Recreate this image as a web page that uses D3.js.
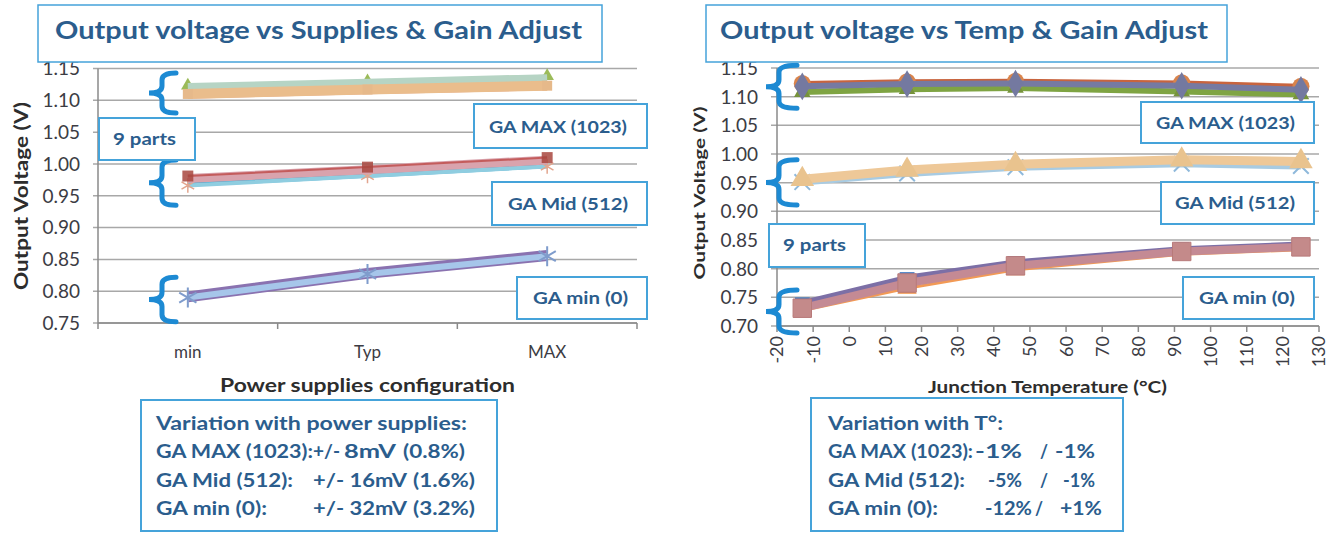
<!DOCTYPE html>
<html>
<head>
<meta charset="utf-8">
<script src="https://cdn.jsdelivr.net/npm/d3@7"></script>
<style>
  html, body { margin: 0; padding: 0; background: #fff; }
  svg { display: block; font-family: Lato, "Open Sans", "Liberation Sans", sans-serif; }
</style>
</head>
<body>
<svg id="chart" width="1340" height="534"></svg>
<script>
// ---------- data: output voltage vs supplies ----------
const supplyCats = ["min", "Typ", "MAX"];
const supplyTicks = [0.75, 0.80, 0.85, 0.90, 0.95, 1.00, 1.05, 1.10, 1.15];

// GA MAX (1023)
const supMaxGreen  = [1.123, 1.130, 1.138];
const supMaxTeal   = [1.120, 1.127, 1.134];
const supMaxOrange = [1.110, 1.117, 1.123];
const supMaxPink   = [1.105, 1.112, 1.118];
// GA Mid (512)
const supMidBrown  = [0.981, 0.995, 1.010];
const supMidPink   = [0.977, 0.991, 1.006];
const supMidCyan   = [0.969, 0.983, 0.998];
const supMidLight  = [0.966, 0.981, 0.996];
// GA min (0)
const supMinPurple = [0.791, 0.828, 0.856];
const supMinLight  = [0.790, 0.827, 0.855];

// ---------- data: output voltage vs junction temperature ----------
const tempPoints = [-13, 16, 46, 92, 125];
const tempTicksX = [-20, -10, 0, 10, 20, 30, 40, 50, 60, 70, 80, 90, 100, 110, 120, 130];
const tempTicksY = [0.70, 0.75, 0.80, 0.85, 0.90, 0.95, 1.00, 1.05, 1.10, 1.15];

// GA MAX (1023)
const tMaxGreen  = [1.108, 1.113, 1.115, 1.109, 1.104];
const tMaxOrange = [1.123, 1.126, 1.127, 1.124, 1.118];
const tMaxSlate  = [1.118, 1.122, 1.123, 1.119, 1.112];
// GA Mid (512)
const tMidBlue   = [0.951, 0.966, 0.977, 0.983, 0.979];
const tMidLilac  = [0.953, 0.969, 0.980, 0.987, 0.983];
const tMidTan    = [0.956, 0.972, 0.982, 0.990, 0.987];
// GA min (0)
const tMinOrange = [0.727, 0.766, 0.798, 0.825, 0.833];
const tMinCyan   = [0.731, 0.772, 0.803, 0.827, 0.836];
const tMinBlue   = [0.737, 0.781, 0.809, 0.833, 0.841];
const tMinSlate  = [0.740, 0.784, 0.811, 0.834, 0.842];
const tMinMauve  = [0.731, 0.775, 0.805, 0.830, 0.838];

// ---------- text ----------
const titleSupplies = "Output voltage vs Supplies & Gain Adjust";
const titleTemp = "Output voltage vs Temp & Gain Adjust";
const yTitle = "Output Voltage (V)";
const xTitleSupplies = "Power supplies configuration";
const xTitleTemp = "Junction Temperature (°C)";
const groupLabels = ["GA MAX (1023)", "GA Mid (512)", "GA min (0)"];
const partsLabel = "9 parts";
const suppliesNotes = [
  ["Variation with power supplies:"],
  ["GA MAX (1023):", "+/-", "8mV", "(0.8%)"],
  ["GA Mid (512):", "+/- 16mV", "(1.6%)"],
  ["GA min (0):", "+/- 32mV", "(3.2%)"]
];
const tempNotes = [
  ["Variation with T°:"],
  ["GA MAX (1023):", "-1%", "/", "-1%"],
  ["GA Mid (512):", "-5%", "/", "-1%"],
  ["GA min (0):", "-12%", "/", "+1%"]
];

// ---------- styling helpers ----------
const svg = d3.select("#chart");
const BORDER = "#45a3da";
const TEXT_BLUE = "#2b5d8d";
const GRID = "#a8a8a8";
const AXIS = "#8a8a8a";
const TICK_TEXT = "#3c3c44";
const BRACE = "#1d8ad3";

function fitText(sel, w) {
  if (w) sel.attr("textLength", w).attr("lengthAdjust", "spacingAndGlyphs");
  return sel;
}

function labelBox(x0, y0, x1, y1, text, tx0, tx1, base, size, bw) {
  svg.append("rect").attr("x", x0).attr("y", y0)
    .attr("width", x1 - x0).attr("height", y1 - y0)
    .attr("fill", "#fff").attr("stroke", BORDER).attr("stroke-width", bw || 2);
  fitText(svg.append("text").attr("x", tx0).attr("y", base)
    .attr("font-size", size).attr("font-weight", 700)
    .attr("fill", TEXT_BLUE).text(text), tx1 - tx0);
}

function brace(tipX, vertX, armX, yTop, yBot) {
  const r = 7, mid = (yTop + yBot) / 2;
  const p = d3.path();
  p.moveTo(armX, yTop);
  p.quadraticCurveTo(vertX, yTop, vertX, yTop + r);
  p.lineTo(vertX, mid - r);
  p.quadraticCurveTo(vertX, mid, tipX, mid);
  p.quadraticCurveTo(vertX, mid, vertX, mid + r);
  p.lineTo(vertX, yBot - r);
  p.quadraticCurveTo(vertX, yBot, armX, yBot);
  svg.append("path").attr("d", p.toString()).attr("fill", "none")
    .attr("stroke", BRACE).attr("stroke-width", 5).attr("stroke-linecap", "round");
}

function drawSeries(g, xs, ys, values, s) {
  const line = d3.line().x((d, i) => xs[i]).y(d => ys(d));
  g.append("path").datum(values).attr("d", line).attr("fill", "none")
    .attr("stroke", s.color).attr("stroke-width", s.width)
    .attr("stroke-linejoin", "round").attr("stroke-opacity", s.opacity || 1);
  if (s.marker) {
    const sym = d3.symbol().type(s.marker).size(s.size || 80);
    g.selectAll(null).data(values).join("path")
      .attr("transform", (d, i) => `translate(${xs[i]},${ys(d)})`)
      .attr("d", sym)
      .attr("fill", s.fill || "none")
      .attr("stroke", s.stroke || "none")
      .attr("stroke-width", s.sw || 1.5)
      .attr("opacity", s.opacity || 1);
  }
}

// =====================================================================
// Left chart: output voltage vs supplies
// =====================================================================
const xL = d3.scaleBand().domain(supplyCats).range([98, 637]);
const yL = d3.scaleLinear().domain([0.75, 1.15]).range([323, 68.5]);
const gL = svg.append("g");

// gridlines
gL.selectAll(null).data(supplyTicks).join("line")
  .attr("x1", 93).attr("x2", 637)
  .attr("y1", d => yL(d)).attr("y2", d => yL(d))
  .attr("stroke", GRID).attr("stroke-width", 1.5);
// axes
gL.append("line").attr("x1", 98).attr("x2", 98).attr("y1", yL(1.15)).attr("y2", yL(0.75))
  .attr("stroke", AXIS).attr("stroke-width", 1.5);
gL.append("line").attr("x1", 98).attr("x2", 637).attr("y1", yL(0.75)).attr("y2", yL(0.75))
  .attr("stroke", AXIS).attr("stroke-width", 1.5);
const bounds = supplyCats.map(c => xL(c)).concat([xL.range()[1]]);
gL.selectAll(null).data(bounds).join("line")
  .attr("x1", d => d).attr("x2", d => d)
  .attr("y1", yL(0.75)).attr("y2", yL(0.75) + 6)
  .attr("stroke", AXIS).attr("stroke-width", 1.5);
// tick labels
gL.selectAll(null).data(supplyTicks).join("text")
  .attr("x", 80).attr("y", d => yL(d)).attr("dy", "0.36em")
  .attr("text-anchor", "end").attr("font-size", 19).attr("fill", TICK_TEXT)
  .text(d => d3.format(".2f")(d));
gL.selectAll(null).data(supplyCats).join("text")
  .attr("x", d => xL(d) + xL.bandwidth() / 2).attr("y", 358)
  .attr("text-anchor", "middle").attr("font-size", 17).attr("fill", TICK_TEXT)
  .text(d => d);

// series
const xsL = supplyCats.map(c => xL(c) + xL.bandwidth() / 2);
const leftSeries = [
  { v: supMaxGreen,  color: "#9bbb59", width: 3, marker: d3.symbolTriangle, size: 80, fill: "#9bbb59" },
  { v: supMaxTeal,   color: "#b6d4c4", width: 9 },
  { v: supMaxPink,   color: "#e39c8c", width: 3 },
  { v: supMaxOrange, color: "#eabd8c", width: 10, marker: d3.symbolSquare, size: 100, fill: "#e6b98a" },
  { v: supMidCyan,   color: "#3fa9d3", width: 6 },
  { v: supMidLight,  color: "#8fcde0", width: 4, marker: d3.symbolAsterisk, size: 150, stroke: "#e2a58e", sw: 1.5 },
  { v: supMidPink,   color: "#d9a3ad", width: 9 },
  { v: supMidBrown,  color: "#c0504d", width: 2, marker: d3.symbolSquare, size: 120, fill: "#a8463e", opacity: 0.85 },
  { v: supMinPurple, color: "#8a72b0", width: 11 },
  { v: supMinLight,  color: "#a6c6ea", width: 6, marker: d3.symbolAsterisk, size: 280, stroke: "#7f9ccc", sw: 2 }
];
leftSeries.forEach(s => drawSeries(gL, xsL, yL, s.v, s));

// braces around the three gain settings
brace(149, 162, 176, yL(1.143), yL(1.080));
brace(149, 162, 176, yL(1.006), yL(0.935));
brace(149, 162, 176, yL(0.822), yL(0.752));

// annotation boxes
labelBox(99, 118, 195, 160, partsLabel, 113, 176, 145, 17);
labelBox(474, 104, 647, 148, groupLabels[0], 489, 627, 133, 17);
labelBox(492, 182, 647, 225, groupLabels[1], 508, 628, 210, 17);
labelBox(517, 277, 647, 319, groupLabels[2], 533, 628, 304, 17);

// axis titles
fitText(svg.append("text")
  .attr("transform", "translate(28,196) rotate(-90)")
  .attr("text-anchor", "middle").attr("font-size", 18).attr("font-weight", 700)
  .attr("fill", "#2d2d2d").text(yTitle), 188);
fitText(svg.append("text").attr("x", 220).attr("y", 392)
  .attr("font-size", 19).attr("font-weight", 700).attr("fill", "#2d2d2d")
  .text(xTitleSupplies), 295);

// title
labelBox(38, 5, 602, 62, titleSupplies, 55, 582, 39, 24, 1.5);

// notes box
svg.append("rect").attr("x", 141).attr("y", 400).attr("width", 356).attr("height", 131)
  .attr("fill", "#fff").attr("stroke", BORDER).attr("stroke-width", 2);
const noteBase = [430, 458, 487, 515];
const supNoteX = [
  [[156, 467]],
  [[156, 313], [313, 340], [344, 396], [403, 465]],
  [[156, 293], [313, 407], [413, 475]],
  [[156, 267], [313, 407], [413, 475]]
];
suppliesNotes.forEach((row, i) => row.forEach((t, j) => {
  const [a, b] = supNoteX[i][j];
  fitText(svg.append("text").attr("x", a).attr("y", noteBase[i])
    .attr("font-size", 19).attr("font-weight", 700).attr("fill", TEXT_BLUE).text(t), b - a);
}));

// =====================================================================
// Right chart: output voltage vs junction temperature
// =====================================================================
const xR = d3.scaleLinear().domain([-20, 130]).range([777, 1319]);
const yR = d3.scaleLinear().domain([0.70, 1.15]).range([326, 68]);
const gR = svg.append("g");

gR.selectAll(null).data(tempTicksY).join("line")
  .attr("x1", 771).attr("x2", 1319)
  .attr("y1", d => yR(d)).attr("y2", d => yR(d))
  .attr("stroke", GRID).attr("stroke-width", 1.5);
gR.append("line").attr("x1", 777).attr("x2", 777).attr("y1", yR(1.15)).attr("y2", yR(0.70))
  .attr("stroke", AXIS).attr("stroke-width", 1.5);
gR.append("line").attr("x1", 777).attr("x2", 1319).attr("y1", yR(0.70)).attr("y2", yR(0.70))
  .attr("stroke", AXIS).attr("stroke-width", 1.5);
gR.selectAll(null).data(tempTicksX).join("line")
  .attr("x1", d => xR(d)).attr("x2", d => xR(d))
  .attr("y1", yR(0.70)).attr("y2", yR(0.70) + 6)
  .attr("stroke", AXIS).attr("stroke-width", 1.5);
gR.selectAll(null).data(tempTicksY).join("text")
  .attr("x", 758).attr("y", d => yR(d)).attr("dy", "0.36em")
  .attr("text-anchor", "end").attr("font-size", 19).attr("fill", TICK_TEXT)
  .text(d => d3.format(".2f")(d));
gR.selectAll(null).data(tempTicksX).join("text")
  .attr("transform", d => `translate(${xR(d)},336) rotate(-90)`)
  .attr("dy", "0.36em").attr("text-anchor", "end")
  .attr("font-size", 18).attr("fill", TICK_TEXT)
  .text(d => d);

const xsR = tempPoints.map(t => xR(t));
const rightSeries = [
  { v: tMaxGreen,  color: "#7fa443", width: 6, marker: d3.symbolTriangle, size: 120, fill: "#77933c" },
  { v: tMaxOrange, color: "#c8643e", width: 5, marker: d3.symbolCircle, size: 230, fill: "#d9844c" },
  { v: tMaxSlate,  color: "#767aa2", width: 6, marker: d3.symbolDiamond, size: 220, fill: "#7479a0" },
  { v: tMidBlue,   color: "#a8cbe2", width: 7, marker: d3.symbolTimes, size: 160, stroke: "#8fb9db", sw: 2 },
  { v: tMidLilac,  color: "#cdbfd9", width: 3 },
  { v: tMidTan,    color: "#eec898", width: 9, marker: d3.symbolTriangle, size: 240, fill: "#e9c38e" },
  { v: tMinOrange, color: "#f29a55", width: 3, marker: d3.symbolTriangle, size: 160, fill: "#f28f3f" },
  { v: tMinCyan,   color: "#4bacc6", width: 3 },
  { v: tMinBlue,   color: "#4f81bd", width: 5, marker: d3.symbolSquare, size: 220, fill: "#3f78c0" },
  { v: tMinSlate,  color: "#7c6fa6", width: 6 },
  { v: tMinMauve,  color: "#c48a94", width: 8, marker: d3.symbolSquare, size: 340, fill: "#c48a8a", stroke: "#b87a7a", sw: 1 }
];
rightSeries.forEach(s => drawSeries(gR, xsR, yR, s.v, s));

brace(766, 779, 797, yR(1.155), yR(1.080));
brace(766, 779, 797, yR(0.990), yR(0.911));
brace(766, 779, 797, yR(0.763), yR(0.688));

labelBox(769, 224, 865, 267, partsLabel, 783, 846, 251, 17);
labelBox(1141, 102, 1314, 143, groupLabels[0], 1156, 1295, 129, 17);
labelBox(1161, 182, 1314, 224, groupLabels[1], 1175, 1295, 209, 17);
labelBox(1183, 277, 1314, 319, groupLabels[2], 1199, 1295, 304, 17);

fitText(svg.append("text")
  .attr("transform", "translate(705,193) rotate(-90)")
  .attr("text-anchor", "middle").attr("font-size", 16).attr("font-weight", 700)
  .attr("fill", "#2d2d2d").text(yTitle), 173);
fitText(svg.append("text").attr("x", 928).attr("y", 393)
  .attr("font-size", 17).attr("font-weight", 700).attr("fill", "#2d2d2d")
  .text(xTitleTemp), 239);

labelBox(706, 5, 1227, 62, titleTemp, 720, 1208, 39, 24, 1.5);

svg.append("rect").attr("x", 811).attr("y", 398).attr("width", 312).attr("height", 133)
  .attr("fill", "#fff").attr("stroke", BORDER).attr("stroke-width", 2);
const tempNoteX = [
  [[828, 1003]],
  [[828, 973], [975, 1022], [1040, 1048], [1055, 1095]],
  [[828, 965], [988, 1022], [1040, 1048], [1063, 1095]],
  [[828, 938], [985, 1032], [1035, 1043], [1060, 1102]]
];
tempNotes.forEach((row, i) => row.forEach((t, j) => {
  const [a, b] = tempNoteX[i][j];
  fitText(svg.append("text").attr("x", a).attr("y", noteBase[i])
    .attr("font-size", 19).attr("font-weight", 700).attr("fill", TEXT_BLUE).text(t), b - a);
}));
</script>
</body>
</html>
